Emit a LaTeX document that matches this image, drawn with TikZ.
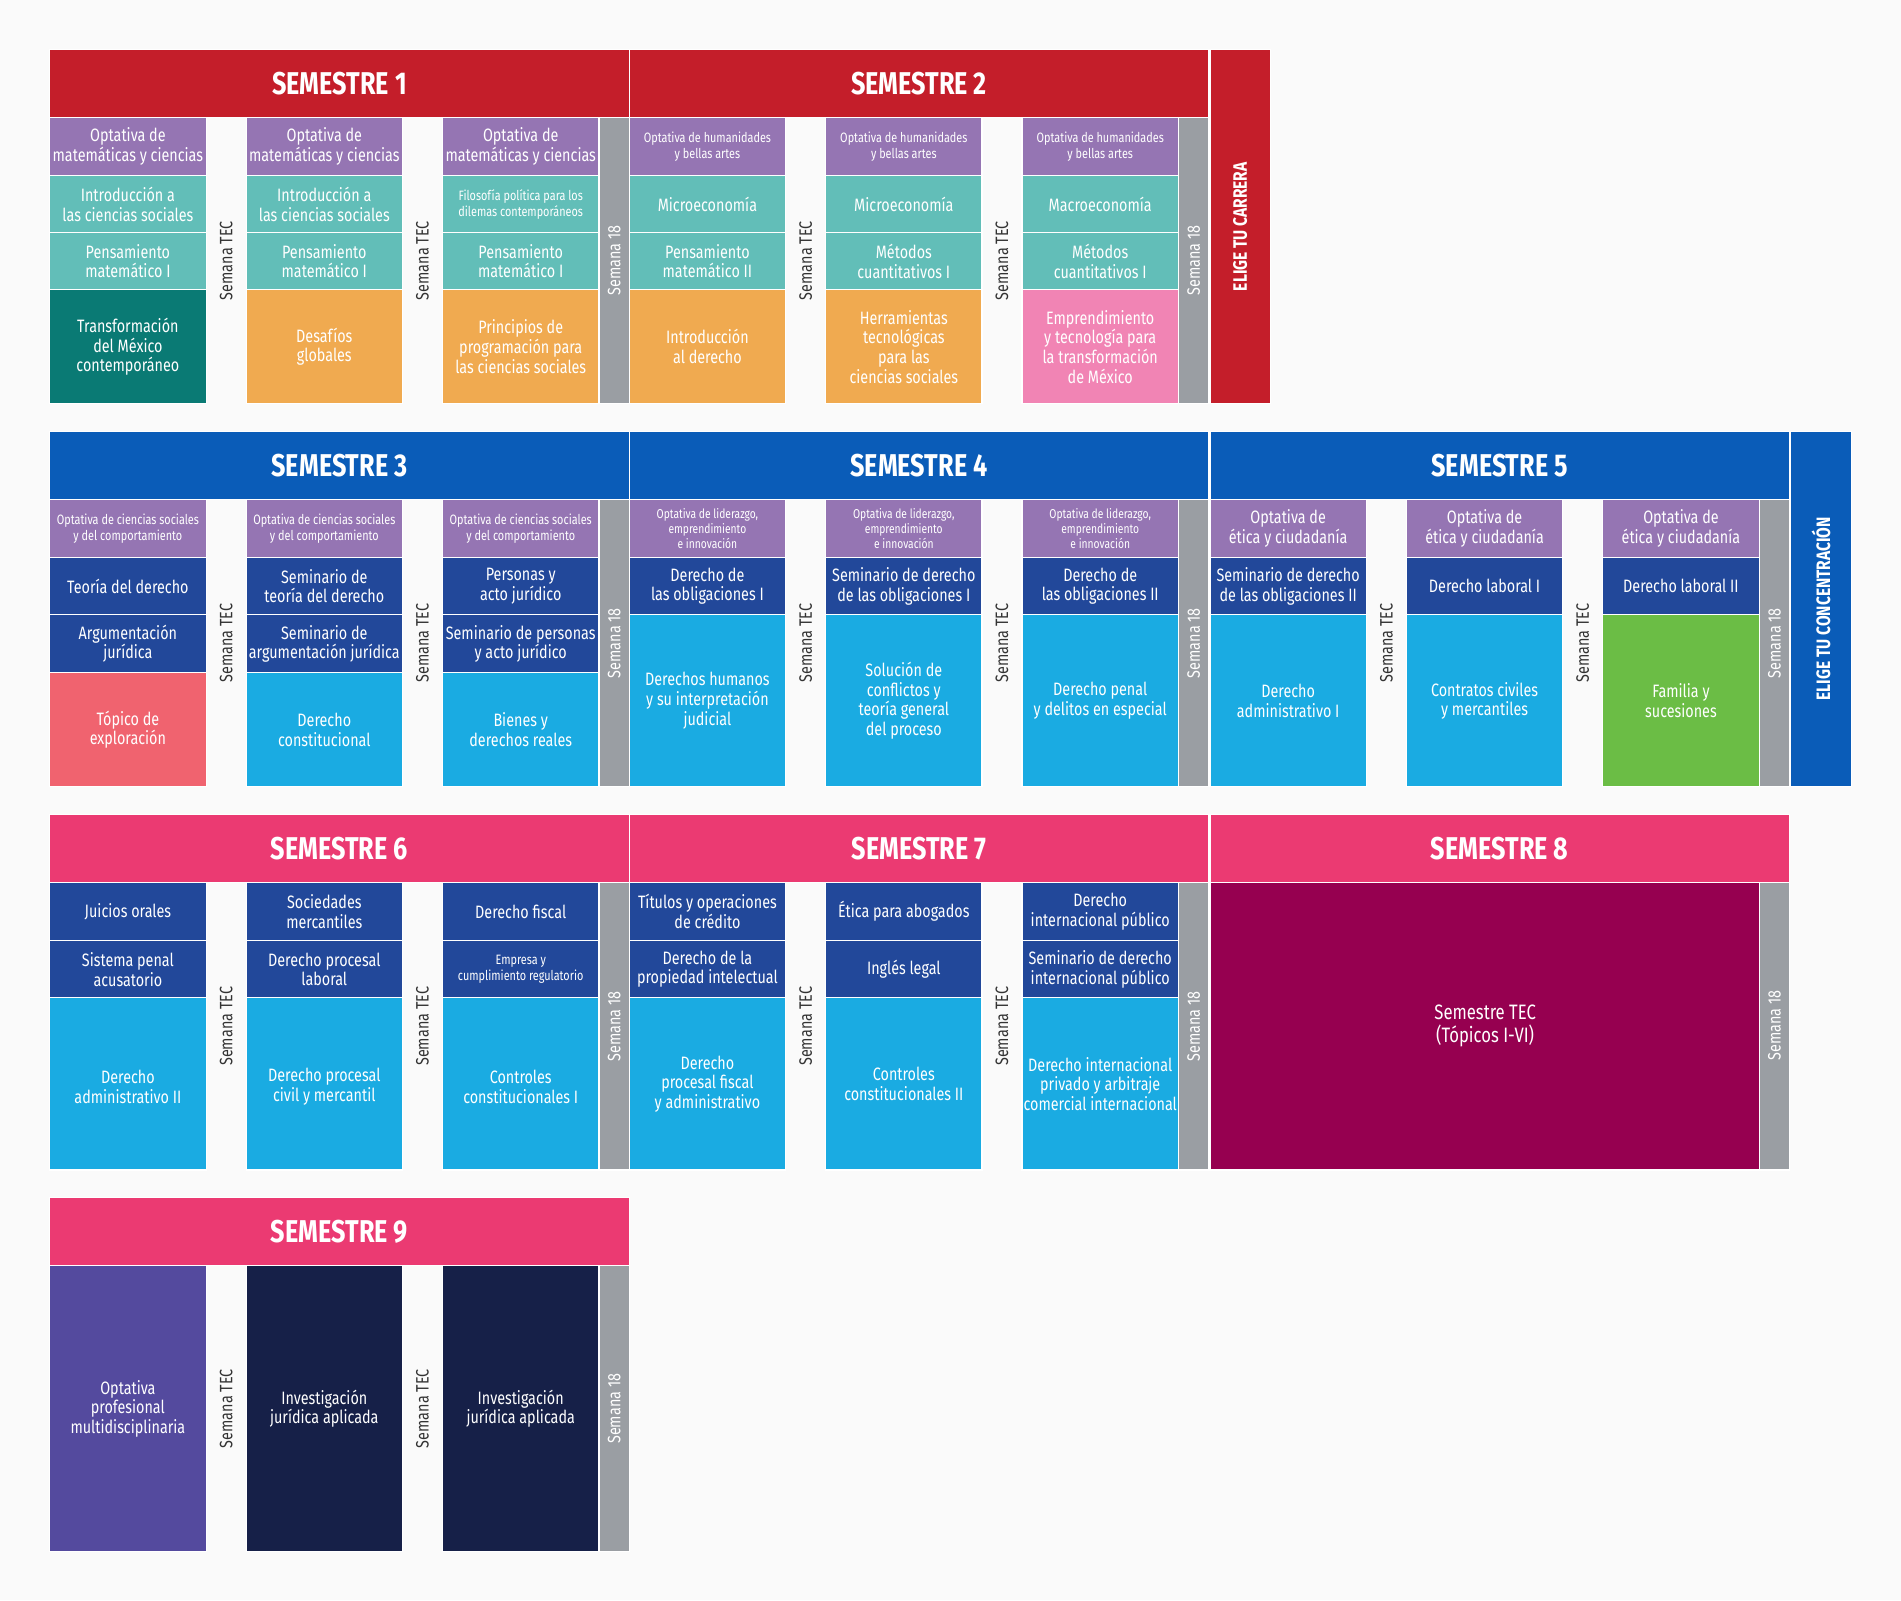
\documentclass[tikz,border=0pt]{standalone}
\usepackage{fontspec}
\setmainfont{Fira Sans}[FakeStretch=0.8]
\definecolor{bg}{HTML}{FAFAFA}
\definecolor{purp}{HTML}{9575B3}
\definecolor{teal}{HTML}{62BEB8}
\definecolor{dteal}{HTML}{0A7A74}
\definecolor{orng}{HTML}{F0AA50}
\definecolor{pnk}{HTML}{F184B4}
\definecolor{redh}{HTML}{C41E2A}
\definecolor{gry}{HTML}{9A9EA3}
\definecolor{blueh}{HTML}{0A5CB8}
\definecolor{dblue}{HTML}{22489A}
\definecolor{lblue}{HTML}{1AABE2}
\definecolor{coral}{HTML}{F0636F}
\definecolor{grn}{HTML}{6BBD45}
\definecolor{pinkh}{HTML}{EB3A72}
\definecolor{mag}{HTML}{960050}
\definecolor{purp2}{HTML}{544A9E}
\definecolor{navy}{HTML}{162048}
\definecolor{tecgray}{HTML}{333333}
\newcommand\fs{\fontsize{7.4}{8.1}\selectfont}
\newcommand\fss{\fontsize{5.6}{6.4}\selectfont}
\newcommand\fst{\fontsize{5.3}{6.2}\selectfont}
\newcommand\cellbox[6][\fs]{\filldraw[fill=#5,draw=white,line width=0.5pt] (#2,#3) rectangle ({#2+129},#4);
  \node[align=center,text=white,inner sep=0pt,font=#1] at ({#2+64.5},{(#3+#4)/2}) {#6};}
\newcommand\hdr[4]{\filldraw[fill=#3,draw=white,line width=0.5pt] (#1,#2) rectangle ({#1+478},{#2+56});
  \node[text=white,font=\bfseries\fontsize{13}{14}\selectfont] at ({#1+239},{#2+28}) {#4};}
\newcommand\gapsrow[3]{\node[rotate=90,text=tecgray,font=\fs] at ({#1+145.5},{(#2+#3)/2}) {Semana TEC};
  \node[rotate=90,text=tecgray,font=\fs] at ({#1+307.5},{(#2+#3)/2}) {Semana TEC};
  \filldraw[fill=gry,draw=white,line width=0.5pt] ({#1+453},#2) rectangle ({#1+478},#3);
  \node[rotate=90,text=white,font=\fs] at ({#1+465.5},{(#2+#3)/2}) {Semana 18};}
\begin{document}
\begin{tikzpicture}[x=0.5pt,y=-0.5pt]
\fill[bg] (0,0) rectangle (1568,1320);
\useasboundingbox (0,0) rectangle (1568,1320);
% Row 1
\hdr{41}{41}{redh}{SEMESTRE 1}
\hdr{519}{41}{redh}{SEMESTRE 2}
\gapsrow{41}{97}{333}
\gapsrow{519}{97}{333}
\cellbox{41}{97}{145}{purp}{Optativa de\\matemáticas y ciencias}
\cellbox{41}{145}{192}{teal}{Introducción a\\las ciencias sociales}
\cellbox{41}{192}{239}{teal}{Pensamiento\\matemático I}
\cellbox{41}{239}{333}{dteal}{Transformación\\del México\\contemporáneo}
\cellbox{203}{97}{145}{purp}{Optativa de\\matemáticas y ciencias}
\cellbox{203}{145}{192}{teal}{Introducción a\\las ciencias sociales}
\cellbox{203}{192}{239}{teal}{Pensamiento\\matemático I}
\cellbox{203}{239}{333}{orng}{Desafíos\\globales}
\cellbox{365}{97}{145}{purp}{Optativa de\\matemáticas y ciencias}
\cellbox[\fss]{365}{145}{192}{teal}{Filosofía política para los\\dilemas contemporáneos}
\cellbox{365}{192}{239}{teal}{Pensamiento\\matemático I}
\cellbox{365}{239}{333}{orng}{Principios de\\programación para\\las ciencias sociales}
\cellbox[\fss]{519}{97}{145}{purp}{Optativa de humanidades\\y bellas artes}
\cellbox{519}{145}{192}{teal}{Microeconomía}
\cellbox{519}{192}{239}{teal}{Pensamiento\\matemático II}
\cellbox{519}{239}{333}{orng}{Introducción\\al derecho}
\cellbox[\fss]{681}{97}{145}{purp}{Optativa de humanidades\\y bellas artes}
\cellbox{681}{145}{192}{teal}{Microeconomía}
\cellbox{681}{192}{239}{teal}{Métodos\\cuantitativos I}
\cellbox{681}{239}{333}{orng}{Herramientas\\tecnológicas\\para las\\ciencias sociales}
\cellbox[\fss]{843}{97}{145}{purp}{Optativa de humanidades\\y bellas artes}
\cellbox{843}{145}{192}{teal}{Macroeconomía}
\cellbox{843}{192}{239}{teal}{Métodos\\cuantitativos I}
\cellbox{843}{239}{333}{pnk}{Emprendimiento\\y tecnología para\\la transformación\\de México}
\filldraw[fill=redh,draw=white,line width=0.5pt] (998,41) rectangle (1048,333);
\node[rotate=90,text=white,font=\bfseries\fontsize{8}{9}\selectfont] (carrera) at (1023,187) {ELIGE TU CARRERA};
% Row 2
\hdr{41}{356}{blueh}{SEMESTRE 3}
\hdr{519}{356}{blueh}{SEMESTRE 4}
\hdr{998}{356}{blueh}{SEMESTRE 5}
\gapsrow{41}{412}{649}
\gapsrow{519}{412}{649}
\gapsrow{998}{412}{649}
\cellbox[\fss]{41}{412}{460}{purp}{Optativa de ciencias sociales\\y del comportamiento}
\cellbox{41}{460}{507}{dblue}{Teoría del derecho}
\cellbox{41}{507}{555}{dblue}{Argumentación\\jurídica}
\cellbox{41}{555}{649}{coral}{Tópico de\\exploración}
\cellbox[\fss]{203}{412}{460}{purp}{Optativa de ciencias sociales\\y del comportamiento}
\cellbox{203}{460}{507}{dblue}{Seminario de\\teoría del derecho}
\cellbox{203}{507}{555}{dblue}{Seminario de\\argumentación jurídica}
\cellbox{203}{555}{649}{lblue}{Derecho\\constitucional}
\cellbox[\fss]{365}{412}{460}{purp}{Optativa de ciencias sociales\\y del comportamiento}
\cellbox{365}{460}{507}{dblue}{Personas y\\acto jurídico}
\cellbox{365}{507}{555}{dblue}{Seminario de personas\\y acto jurídico}
\cellbox{365}{555}{649}{lblue}{Bienes y\\derechos reales}
\cellbox[\fst]{519}{412}{460}{purp}{Optativa de liderazgo,\\emprendimiento\\e innovación}
\cellbox{519}{460}{507}{dblue}{Derecho de\\las obligaciones I}
\cellbox{519}{507}{649}{lblue}{Derechos humanos\\y su interpretación\\judicial}
\cellbox[\fst]{681}{412}{460}{purp}{Optativa de liderazgo,\\emprendimiento\\e innovación}
\cellbox{681}{460}{507}{dblue}{Seminario de derecho\\de las obligaciones I}
\cellbox{681}{507}{649}{lblue}{Solución de\\conflictos y\\teoría general\\del proceso}
\cellbox[\fst]{843}{412}{460}{purp}{Optativa de liderazgo,\\emprendimiento\\e innovación}
\cellbox{843}{460}{507}{dblue}{Derecho de\\las obligaciones II}
\cellbox{843}{507}{649}{lblue}{Derecho penal\\y delitos en especial}
\cellbox{998}{412}{460}{purp}{Optativa de\\ética y ciudadanía}
\cellbox{998}{460}{507}{dblue}{Seminario de derecho\\de las obligaciones II}
\cellbox{998}{507}{649}{lblue}{Derecho\\administrativo I}
\cellbox{1160}{412}{460}{purp}{Optativa de\\ética y ciudadanía}
\cellbox{1160}{460}{507}{dblue}{Derecho laboral I}
\cellbox{1160}{507}{649}{lblue}{Contratos civiles\\y mercantiles}
\cellbox{1322}{412}{460}{purp}{Optativa de\\ética y ciudadanía}
\cellbox{1322}{460}{507}{dblue}{Derecho laboral II}
\cellbox{1322}{507}{649}{grn}{Familia y\\sucesiones}
\filldraw[fill=blueh,draw=white,line width=0.5pt] (1477,356) rectangle (1527,649);
\node[rotate=90,text=white,font=\bfseries\fontsize{8}{9}\selectfont] (conc) at (1502,502) {ELIGE TU CONCENTRACIÓN};
% Row 3
\hdr{41}{672}{pinkh}{SEMESTRE 6}
\hdr{519}{672}{pinkh}{SEMESTRE 7}
\hdr{998}{672}{pinkh}{SEMESTRE 8}
\gapsrow{41}{728}{965}
\gapsrow{519}{728}{965}
\cellbox{41}{728}{776}{dblue}{Juicios orales}
\cellbox{41}{776}{823}{dblue}{Sistema penal\\acusatorio}
\cellbox{41}{823}{965}{lblue}{\\Derecho\\administrativo II}
\cellbox{203}{728}{776}{dblue}{Sociedades\\mercantiles}
\cellbox{203}{776}{823}{dblue}{Derecho procesal\\laboral}
\cellbox{203}{823}{965}{lblue}{\\Derecho procesal\\civil y mercantil}
\cellbox{365}{728}{776}{dblue}{Derecho fiscal}
\cellbox[\fss]{365}{776}{823}{dblue}{Empresa y\\cumplimiento regulatorio}
\cellbox{365}{823}{965}{lblue}{\\Controles\\constitucionales I}
\cellbox{519}{728}{776}{dblue}{Títulos y operaciones\\de crédito}
\cellbox{519}{776}{823}{dblue}{Derecho de la\\propiedad intelectual}
\cellbox{519}{823}{965}{lblue}{Derecho\\procesal fiscal\\y administrativo}
\cellbox{681}{728}{776}{dblue}{Ética para abogados}
\cellbox{681}{776}{823}{dblue}{Inglés legal}
\cellbox{681}{823}{965}{lblue}{Controles\\constitucionales II}
\cellbox{843}{728}{776}{dblue}{Derecho\\internacional público}
\cellbox{843}{776}{823}{dblue}{Seminario de derecho\\internacional público}
\cellbox{843}{823}{965}{lblue}{Derecho internacional\\privado y arbitraje\\comercial internacional}
\filldraw[fill=mag,draw=white,line width=0.5pt] (998,728) rectangle (1451,965);
\node[align=center,text=white,font=\fontsize{8.6}{9.4}\selectfont] (tec) at (1225,846) {Semestre TEC\\(Tópicos I-VI)};
\filldraw[fill=gry,draw=white,line width=0.5pt] (1451,728) rectangle (1476,965);
\node[rotate=90,text=white,font=\fs] at (1463.5,846) {Semana 18};
% Row 4
\hdr{41}{988}{pinkh}{SEMESTRE 9}
\gapsrow{41}{1044}{1280}
\cellbox{41}{1044}{1280}{purp2}{Optativa\\profesional\\multidisciplinaria}
\cellbox{203}{1044}{1280}{navy}{Investigación\\jurídica aplicada}
\cellbox{365}{1044}{1280}{navy}{Investigación\\jurídica aplicada}
\end{tikzpicture}
\end{document}
